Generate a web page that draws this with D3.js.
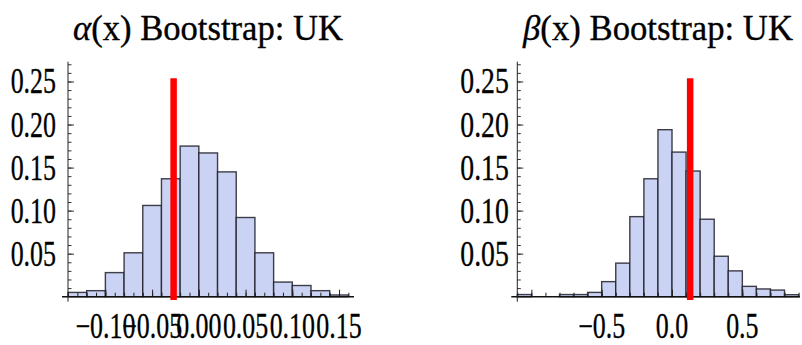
<!doctype html>
<html>
  <head>
    <title>Bootstrap histograms: UK</title>
    <style>
      body { margin: 0; background: #fff; }
    </style>
  </head>
  <body>
    <svg width='802' height='345'></svg>

  <script src='https://d3js.org/d3.v7.min.js'></script>
  <script>
// Histogram data (bin starts + relative frequencies).
var alphaBinStart = [-0.14, -0.12, -0.10, -0.08, -0.06, -0.04, -0.02, 0.00,
                     0.02, 0.04, 0.06, 0.08, 0.10, 0.12, 0.14];
var alphaBinWidth = 0.02;
var alphaFreq = [0.005, 0.007, 0.028, 0.051, 0.106, 0.137, 0.175, 0.167,
                 0.145, 0.092, 0.051, 0.017, 0.013, 0.007, 0.002];
var alphaEstimate = -0.027;

var betaBinStart = [-1.1, -1.0, -0.9, -0.8, -0.7, -0.6, -0.5, -0.4, -0.3, -0.2,
                    -0.1, 0.0, 0.1, 0.2, 0.3, 0.4, 0.5, 0.6, 0.7, 0.8];
var betaBinWidth = 0.1;
var betaFreq = [0.0025, 0, 0, 0.0025, 0.0025, 0.005, 0.0175, 0.039, 0.093, 0.137,
                0.194, 0.168, 0.146, 0.090, 0.047, 0.030, 0.012, 0.009, 0.0077, 0.0023];
var betaEstimate = 0.129;

var estimateTop = 0.25;

var yTickValues = [0.05, 0.10, 0.15, 0.20, 0.25];
var yTickLabels = ['0.05', '0.10', '0.15', '0.20', '0.25'];

var alphaTickValues = [-0.10, -0.05, 0.00, 0.05, 0.10, 0.15];
var alphaTickLabels = ['\u22120.10', '\u22120.05', '0.00', '0.05', '0.10', '0.15'];
var betaTickValues = [-1.0, -0.5, 0.0, 0.5];
var betaTickLabels = ['', '\u22120.5', '0.0', '0.5'];

var FONT = 'Liberation Serif';

var svg = d3.select('svg');

var y = d3.scaleLinear().domain([0, 0.273]).range([296.7, 61.7]);

// squeeze a text element horizontally (the reference type is narrow)
function narrowText(g, str, x0, y0, anchor, k, size) {
  return g.append('text')
    .attr('transform', 'translate(' + x0 + ',' + y0 + ') scale(' + k + ',1)')
    .attr('text-anchor', anchor)
    .style('font-family', FONT)
    .attr('font-size', size)
    .attr('fill', '#000')
    .attr('stroke', '#000')
    .attr('stroke-width', 0.35)
    .text(str);
}

function drawPanel(p) {
  var g = svg.append('g');
  var x = d3.scaleLinear().domain(p.domain).range(p.range);

  // bars
  g.selectAll('rect.bar')
    .data(p.starts.map(function(s, i) { return {s: s, f: p.freq[i]}; })
          .filter(function(d) { return d.f > 0; }))
    .enter().append('rect')
    .attr('class', 'bar')
    .attr('x', function(d) { return x(d.s); })
    .attr('width', function(d) { return x(d.s + p.binWidth) - x(d.s); })
    .attr('y', function(d) { return y(d.f); })
    .attr('height', function(d) { return y(0) - y(d.f); })
    .attr('fill', '#cbd3f4')
    .attr('stroke', 'rgba(30,30,40,0.85)')
    .attr('stroke-width', 1.4);

  // x axis ticks (pointing inward/up)
  var xa = g.append('g').attr('transform', 'translate(0,' + y(0) + ')');
  xa.call(d3.axisBottom(x).tickValues(p.minorX).tickSize(-4).tickFormat(''));
  xa.append('g').call(d3.axisBottom(x).tickValues(p.majorX).tickSize(-7).tickFormat(''));
  xa.selectAll('.domain').remove();
  xa.selectAll('line').attr('stroke', '#222').attr('stroke-width', 1);

  // y axis ticks (pointing inward/right)
  var ya = g.append('g').attr('transform', 'translate(' + p.range[0] + ',0)');
  ya.call(d3.axisLeft(y).tickValues(d3.range(1, 28).map(function(d) { return d / 100; }))
    .tickSize(-3.5).tickFormat(''));
  ya.append('g').call(d3.axisLeft(y).tickValues(yTickValues).tickSize(-6).tickFormat(''));
  ya.selectAll('.domain').remove();
  ya.selectAll('line').attr('stroke', '#333').attr('stroke-width', 1);

  // axis lines
  g.append('line')
    .attr('x1', p.range[0] - 6).attr('x2', p.range[1])
    .attr('y1', y(0)).attr('y2', y(0))
    .attr('stroke', '#111').attr('stroke-width', 1.5);
  g.append('line')
    .attr('x1', p.range[0]).attr('x2', p.range[0])
    .attr('y1', y(0) + 5).attr('y2', y.range()[1])
    .attr('stroke', '#222').attr('stroke-width', 1);

  // estimate line
  g.append('line')
    .attr('x1', x(p.estimate)).attr('x2', x(p.estimate))
    .attr('y1', y(0)).attr('y2', y(estimateTop))
    .attr('stroke', '#ff0000').attr('stroke-width', 6.5)
    .attr('stroke-linecap', 'square');

  // tick labels
  yTickValues.forEach(function(v, i) {
    narrowText(g, yTickLabels[i], p.range[0] - p.yLabelGap, y(v) + 12, 'end', p.yk, 36);
  });
  p.majorX.forEach(function(v, i) {
    if (p.xLabels[i]) narrowText(g, p.xLabels[i], x(v), 338, 'middle', p.xk, 36);
  });

  // title
  var t = g.append('text')
    .attr('text-anchor', 'middle')
    .style('font-family', FONT)
    .attr('font-size', 36)
    .attr('fill', '#000')
    .attr('stroke', '#000')
    .attr('stroke-width', 0.35);
  t.append('tspan').attr('font-style', 'italic').text(p.greek);
  t.append('tspan').text('(x) Bootstrap: UK');
  var len = t.node().getComputedTextLength();
  t.attr('transform', 'translate(' + p.titleX + ',39.5) scale(' + (270 / len) + ',1)');
}

drawPanel({
  domain: [-0.14, 0.166], range: [68, 354],
  starts: alphaBinStart, freq: alphaFreq, binWidth: alphaBinWidth,
  estimate: alphaEstimate,
  minorX: d3.range(-14, 17).map(function(d) { return d / 100; }),
  majorX: alphaTickValues, xLabels: alphaTickLabels,
  yLabelGap: 12, yk: 0.72, xk: 0.72,
  greek: '\u03b1', titleX: 208
});

drawPanel({
  domain: [-1.1, 0.91], range: [517.3, 800],
  starts: betaBinStart, freq: betaFreq, binWidth: betaBinWidth,
  estimate: betaEstimate,
  minorX: d3.range(-11, 10).map(function(d) { return d / 10; }),
  majorX: betaTickValues, xLabels: betaTickLabels,
  yLabelGap: 8.5, yk: 0.77, xk: 0.72,
  greek: '\u03b2', titleX: 658
});
  </script>
  </body>
</html>
